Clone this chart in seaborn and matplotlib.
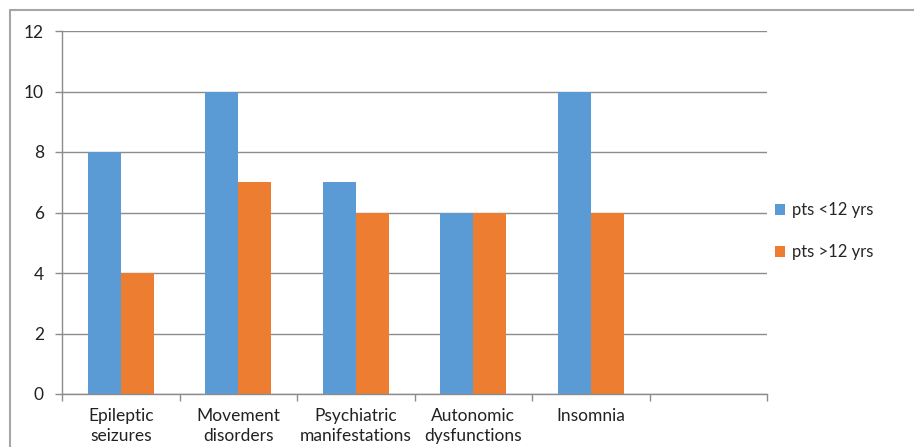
import pandas as pd
import matplotlib.pyplot as plt
import seaborn as sns
from matplotlib.lines import Line2D

# data
categories = ['Epileptic\nseizures', 'Movement\ndisorders', 'Psychiatric\nmanifestations',
              'Autonomic\ndysfunctions', 'Insomnia']
under_12 = [8, 10, 7, 6, 10]
over_12 = [4, 7, 6, 6, 6]
groups = ['pts <12 yrs', 'pts >12 yrs']
order = categories + [' ']  # empty last slot like the original

df = pd.DataFrame({
    'cat': categories * 2,
    'n': under_12 + over_12,
    'group': [groups[0]] * len(categories) + [groups[1]] * len(categories),
})

sns.set_style('white')
plt.rcParams['font.family'] = ['Lato', 'DejaVu Sans']

fig = plt.figure(figsize=(9.14, 4.47), dpi=100)
ax = fig.add_axes([62 / 914, 1 - 394 / 447, (767 - 62) / 914, (394 - 31) / 447])

sns.barplot(data=df, x='cat', y='n', hue='group', order=order, hue_order=groups,
            palette=['#5B9BD5', '#ED7D31'], width=0.564, gap=0, ax=ax,
            saturation=1, edgecolor='none')

ax.set_xlim(-0.5, len(order) - 0.5)
ax.set_ylim(0, 12)
ax.set_yticks(range(0, 13, 2))
ax.yaxis.grid(True, color='#8c8c8c', lw=1)
ax.set_axisbelow(True)
ax.set_xlabel('')
ax.set_ylabel('')

# labels at category centers, tick marks at the boundaries
ax.set_xticks(range(len(order)))
ax.set_xticklabels(order, fontsize=12.5, color='#222222', linespacing=1.3)
ax.set_xticks([i - 0.5 for i in range(len(order) + 1)], minor=True)
ax.tick_params(axis='x', which='major', length=0, pad=10)
ax.tick_params(axis='x', which='minor', length=5, width=1, color='#8c8c8c', direction='out', bottom=True)
ax.tick_params(axis='y', length=5, width=1, color='#8c8c8c', direction='out', left=True,
               labelsize=12.5, labelcolor='#222222', pad=8)

for s in ['top', 'right']:
    ax.spines[s].set_visible(False)
for s in ['left', 'bottom']:
    ax.spines[s].set_color('#8c8c8c')
    ax.spines[s].set_linewidth(1)

ax.legend(loc='center left', bbox_to_anchor=(0.99, 0.448), frameon=False, fontsize=12,
          handlelength=0.6, handleheight=0.6, handletextpad=0.4, labelspacing=1.55)

# outer chart frame (only top and left visible in the crop)
fig.add_artist(Line2D([10 / 914, 1], [1 - 9.5 / 447, 1 - 9.5 / 447], color='#a6a6a6', lw=1.5))
fig.add_artist(Line2D([10 / 914, 10 / 914], [0, 1 - 9.5 / 447], color='#a6a6a6', lw=1.5))

fig.savefig('out.png', dpi=100)
